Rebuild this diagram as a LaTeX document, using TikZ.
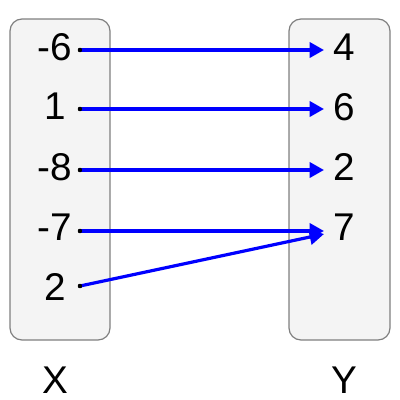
\documentclass[tikz,border=0pt]{standalone}
\usepackage{fontspec}
\setmainfont{Liberation Sans}
\usetikzlibrary{arrows.meta}
\definecolor{setfill}{HTML}{F4F4F4}
\definecolor{setline}{HTML}{7F7F7F}
\tikzset{
  setbox/.style={draw=setline,fill=setfill,line width=0.3mm,rounded corners=3mm},
  elem/.style={anchor=base,inner sep=0pt,font=\fontsize{27.5pt}{32pt}\selectfont},
  dot/.style={circle,fill=black,inner sep=0pt,minimum size=1.1mm},
  maps/.style={blue,line width=0.8mm,-{Triangle[length=3.6mm,width=3.8mm]}}
}
\begin{document}
\begin{tikzpicture}[x=0.25mm,y=-0.25mm]
    \useasboundingbox (0,0) rectangle (400,400);
    \draw[setbox] (10,19) rectangle (110,340);
    \draw[setbox] (289,19) rectangle (390,340);

    % dominio
    \draw node at (55,60)[elem,name=x1]{-6};
    \draw node at (55,119)[elem,name=x2]{1};
    \draw node at (55,180)[elem,name=x3]{-8};
    \draw node at (55,240)[elem,name=x4]{-7};
    \draw node at (55,300)[elem,name=x5]{2};
    \draw node at (55,393)[elem,name=X]{X};

    % codominio
    \draw node at (344,60)[elem,name=y1]{4};
    \draw node at (344,120)[elem,name=y2]{6};
    \draw node at (344,180)[elem,name=y3]{2};
    \draw node at (344,240)[elem,name=y4]{7};
    \draw node at (344,393)[elem,name=Y]{Y};

    \draw node at (80,50)[dot,name=d1]{};
    \draw node at (80,109)[dot,name=d2]{};
    \draw node at (80,170)[dot,name=d3]{};
    \draw node at (80,231)[dot,name=d4]{};
    \draw node at (80,286)[dot,name=d5]{};
    \coordinate (t1) at (324,50);
    \coordinate (t2) at (324,109);
    \coordinate (t3) at (324,170);
    \coordinate (t4) at (324,231);
    \coordinate (t5) at (324,234);

    \draw[maps](d1.center) -- (t1);
    \draw[maps](d2.center) -- (t2);
    \draw[maps](d3.center) -- (t3);
    \draw[maps](d4.center) -- (t4);
    \draw[maps](d5.center) -- (t5);
    \foreach \d in {d1,d2,d3,d4,d5}
      \fill (\d) circle (0.55mm);
\end{tikzpicture}
\end{document}
